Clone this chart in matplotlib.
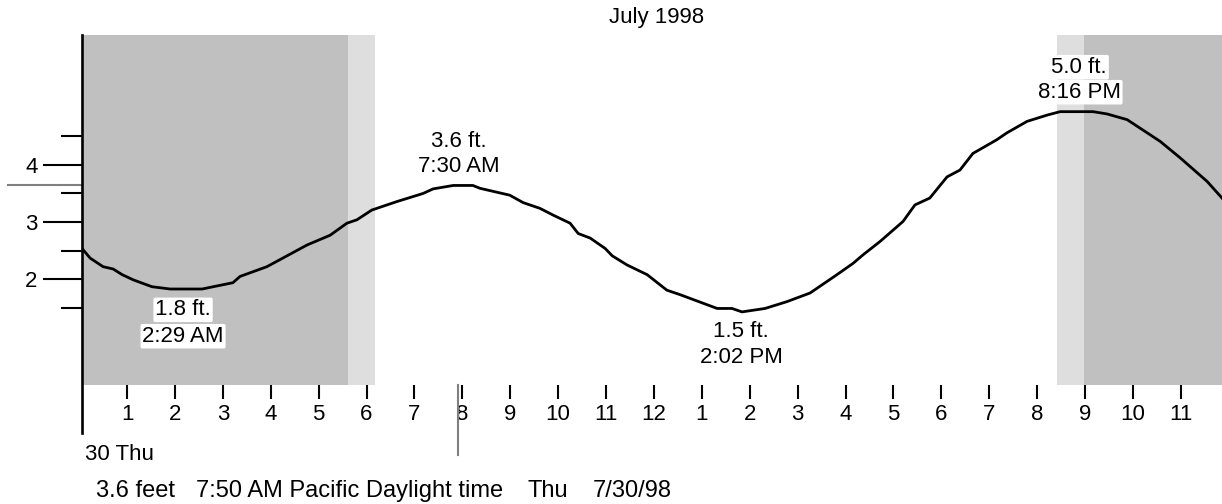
import matplotlib
matplotlib.use('Agg')
import matplotlib.pyplot as plt
from matplotlib.transforms import blended_transform_factory

plt.rcParams['font.family'] = ['Liberation Sans', 'DejaVu Sans']
plt.rcParams['font.size'] = 16

# tide curve, hours after midnight 30 Jul vs height in feet
hours = [0.06, 0.23, 0.50, 0.71, 0.90, 1.13, 1.52, 1.90, 2.57, 2.80, 3.21, 3.36,
         3.92, 4.34, 4.76, 5.24, 5.59, 5.80, 6.11, 6.64, 7.18, 7.39, 7.81, 8.22,
         8.37, 8.99, 9.27, 9.62, 9.90, 10.25, 10.42, 10.67, 10.98, 11.13, 11.44,
         11.86, 12.27, 12.55, 13.32, 13.63, 13.84, 14.32, 14.78, 15.26, 15.47,
         15.82, 16.16, 16.37, 16.72, 17.20, 17.45, 17.76, 18.12, 18.39, 18.66,
         19.16, 19.37, 19.79, 20.21, 20.48, 21.17, 21.46, 21.88, 22.57, 22.99,
         23.55, 23.86]
feet = [2.54, 2.37, 2.22, 2.18, 2.08, 1.99, 1.87, 1.83, 1.83, 1.87, 1.94, 2.05,
        2.22, 2.41, 2.60, 2.77, 2.98, 3.04, 3.21, 3.36, 3.50, 3.58, 3.64, 3.64,
        3.59, 3.47, 3.34, 3.24, 3.12, 2.98, 2.80, 2.72, 2.54, 2.41, 2.25,
        2.08, 1.81, 1.73, 1.49, 1.49, 1.43, 1.49, 1.61, 1.76, 1.88,
        2.08, 2.28, 2.43, 2.66, 3.01, 3.30, 3.42, 3.79, 3.91, 4.20,
        4.44, 4.56, 4.76, 4.87, 4.93, 4.93, 4.89, 4.79, 4.41, 4.12,
        3.71, 3.42]

# high / low tides
ext_hours = [2.17, 7.93, 13.82, 20.88]
ext_feet = [1.83, 3.64, 1.46, 4.93]
ext_levels = ['1.8 ft.', '3.6 ft.', '1.5 ft.', '5.0 ft.']
ext_times = ['2:29 AM', '7:30 AM', '2:02 PM', '8:16 PM']
ext_is_high = [False, True, False, True]

# night and twilight
night_spans = [(0.06, 5.61), (20.98, 23.86)]
twilight_spans = [(5.61, 6.18), (20.42, 20.98)]

now_hour = 7.91
now_feet = 3.64

tick_hours = list(range(1, 24))
tick_labels = [str((h - 1) % 12 + 1) for h in tick_hours]

fig = plt.figure(figsize=(12.22, 5.04), dpi=100)
ax = fig.add_axes([82 / 1222, 1 - 385 / 504, 1140 / 1222, 350 / 504])
ax.set_xlim(0.06, 23.86)
ax.set_ylim(0.152, 6.27)

for a, b in night_spans:
    ax.axvspan(a, b, color='#c0c0c0', lw=0, zorder=0)
for a, b in twilight_spans:
    ax.axvspan(a, b, color='#dedede', lw=0, zorder=0)

ax.plot(hours, feet, color='black', lw=2.0, zorder=3)

for h, f, lev, t, hi in zip(ext_hours, ext_feet, ext_levels, ext_times, ext_is_high):
    box = dict(boxstyle='round,pad=0.08', fc='white', ec='none')
    if hi:
        offs = [(lev, 32), (t, 14)]
    else:
        offs = [(lev, -15), (t, -34)]
    for s, dy in offs:
        ax.annotate(s, (h, f), xytext=(0, dy), textcoords='offset points',
                    ha='center', va='center', bbox=box, zorder=4)

for sp in ax.spines.values():
    sp.set_visible(False)
ax.plot([0, 0], [-0.137, 1], transform=ax.transAxes, color='black', lw=1.9,
        clip_on=False, zorder=5)

ax.set_yticks([2, 3, 4])
ax.set_yticks([1.5, 2.5, 3.5, 4.5], minor=True)
ax.tick_params(axis='y', which='major', length=28, width=1.5, pad=4)
ax.tick_params(axis='y', which='minor', length=15, width=1.5)
ax.set_xticks(tick_hours)
ax.set_xticklabels(tick_labels)
ax.tick_params(axis='x', length=10, width=1.5, pad=4)

# current time / level markers
ty = blended_transform_factory(ax.transAxes, ax.transData)
ax.plot([-74 / 1140, 0], [now_feet, now_feet], transform=ty, color='#808080',
        lw=1.5, clip_on=False)
tx = blended_transform_factory(ax.transData, ax.transAxes)
ax.plot([now_hour, now_hour], [0, -0.2], transform=tx, color='#808080',
        lw=1.5, clip_on=False)

fig.text(657 / 1222, 1 - 17 / 504, 'July 1998', ha='center', va='center')
fig.text(85 / 1222, 1 - 454 / 504, '30 Thu', ha='left', va='center')
by = 1 - 497 / 504
fig.text(96 / 1222, by, '3.6 feet', ha='left', va='baseline', fontsize=17)
fig.text(196 / 1222, by, '7:50 AM Pacific Daylight time', ha='left',
         va='baseline', fontsize=17)
fig.text(527 / 1222, by, 'Thu', ha='left', va='baseline', fontsize=17)
fig.text(593 / 1222, by, '7/30/98', ha='left', va='baseline', fontsize=17)

fig.savefig('out.png', dpi=100)
